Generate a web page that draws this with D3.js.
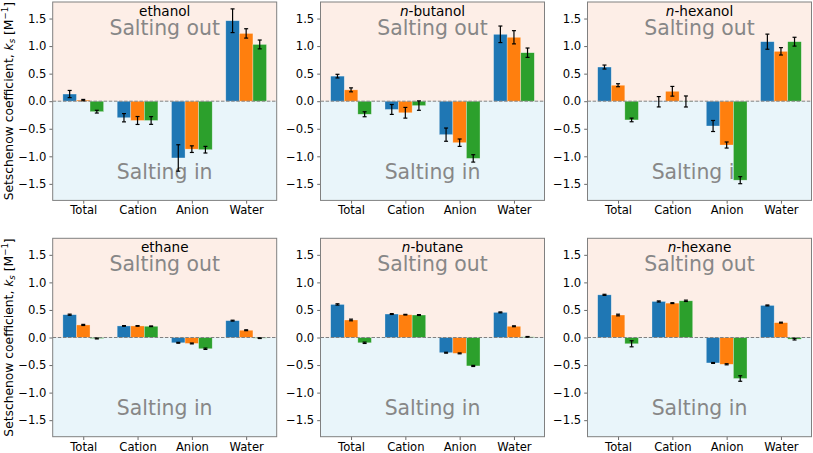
<!DOCTYPE html>
<html>
<head>
<meta charset="utf-8">
<script src="https://cdn.jsdelivr.net/npm/d3@7"></script>
<style>
  body { margin: 0; background: #fff; }
  svg { display: block; font-family: "DejaVu Sans", sans-serif; }
</style>
</head>
<body>
<svg id="chart" width="813" height="453"></svg>
<script>
// ---------- data ----------
const categories = ["Total", "Cation", "Anion", "Water"];
const seriesColors = ["#1f77b4", "#ff7f0e", "#2ca02c"];
const yTicks = [-1.5, -1.0, -0.5, 0.0, 0.5, 1.0, 1.5];

// values per category: [blue, orange, green]
const ethanolVals  = [[0.13, 0.02, -0.19], [-0.30, -0.35, -0.35], [-1.03, -0.87, -0.88], [1.46, 1.23, 1.03]];
const ethanolErrs  = [[0.065, 0.012, 0.025], [0.075, 0.072, 0.07], [0.24, 0.06, 0.06], [0.215, 0.085, 0.08]];
const butanolVals  = [[0.455, 0.206, -0.237], [-0.15, -0.21, -0.08], [-0.607, -0.753, -1.038], [1.214, 1.16, 0.88]];
const butanolErrs  = [[0.033, 0.036, 0.045], [0.09, 0.097, 0.085], [0.12, 0.067, 0.067], [0.15, 0.12, 0.085]];
const hexanolVals  = [[0.62, 0.29, -0.34], [-0.01, 0.18, -0.005], [-0.45, -0.795, -1.433], [1.08, 0.905, 1.08]];
const hexanolErrs  = [[0.036, 0.027, 0.033], [0.094, 0.088, 0.1], [0.1, 0.055, 0.064], [0.137, 0.067, 0.08]];
const ethaneVals   = [[0.414, 0.228, -0.018], [0.21, 0.21, 0.204], [-0.096, -0.108, -0.204], [0.306, 0.132, -0.012]];
const ethaneErrs   = [[0.01, 0.01, 0.008], [0.006, 0.006, 0.006], [0.008, 0.008, 0.012], [0.008, 0.008, 0.006]];
const butaneVals   = [[0.60, 0.318, -0.096], [0.426, 0.414, 0.408], [-0.276, -0.288, -0.516], [0.456, 0.204, 0.012]];
const butaneErrs   = [[0.012, 0.015, 0.012], [0.008, 0.006, 0.008], [0.008, 0.008, 0.01], [0.008, 0.008, 0.006]];
const hexaneVals   = [[0.774, 0.408, -0.114], [0.654, 0.624, 0.666], [-0.462, -0.486, -0.744], [0.582, 0.27, -0.03]];
const hexaneErrs   = [[0.01, 0.015, 0.055], [0.01, 0.008, 0.012], [0.008, 0.01, 0.05], [0.008, 0.008, 0.015]];

// title: [prefix italic, rest]
const panelTitles = [["", "ethanol"], ["n", "-butanol"], ["n", "-hexanol"], ["", "ethane"], ["n", "-butane"], ["n", "-hexane"]];
const panelVals = [ethanolVals, butanolVals, hexanolVals, ethaneVals, butaneVals, hexaneVals];
const panelErrs = [ethanolErrs, butanolErrs, hexanolErrs, ethaneErrs, butaneErrs, hexaneErrs];

// ---------- layout ----------
const colX = [52.7, 320.5, 587.5];
const rowY = [2, 238.3];
const pw = 224, ph = 198.4;
const yDomain = [-1.8, 1.8];
const xDomain = [-0.5625, 3.5625];
const barW = 0.25;

const svg = d3.select("#chart");

panelVals.forEach((vals, p) => {
  const col = p % 3, row = Math.floor(p / 3);
  const x0 = colX[col], y0 = rowY[row];
  const g = svg.append("g").attr("transform", `translate(${x0},${y0})`);
  const x = d3.scaleLinear().domain(xDomain).range([0, pw]);
  const y = d3.scaleLinear().domain(yDomain).range([ph, 0]);

  // backgrounds
  g.append("rect").attr("x", 0).attr("y", 0).attr("width", pw).attr("height", y(0))
    .attr("fill", "#fdeee7");
  g.append("rect").attr("x", 0).attr("y", y(0)).attr("width", pw).attr("height", ph - y(0))
    .attr("fill", "#e9f5fa");

  // region labels
  g.append("text").attr("x", pw / 2).attr("y", y(1.205)).attr("text-anchor", "middle")
    .attr("font-size", 20.4).attr("fill", "#878787").text("Salting out");
  g.append("text").attr("x", pw / 2).attr("y", y(-1.405)).attr("text-anchor", "middle")
    .attr("font-size", 20.4).attr("fill", "#878787").text("Salting in");

  // bars
  const errs = panelErrs[p];
  vals.forEach((grp, ci) => {
    grp.forEach((v, si) => {
      const cx = ci + (si - 1) * barW;
      g.append("rect")
        .attr("x", x(cx - barW / 2))
        .attr("width", x(cx + barW / 2) - x(cx - barW / 2))
        .attr("y", y(Math.max(0, v)))
        .attr("height", Math.abs(y(v) - y(0)))
        .attr("fill", seriesColors[si])
        .attr("stroke", "#ffffff").attr("stroke-opacity", 0.5).attr("stroke-width", 0.6);
    });
  });

  // zero line
  g.append("line").attr("x1", 0).attr("x2", pw).attr("y1", y(0)).attr("y2", y(0))
    .attr("stroke", "#808080").attr("stroke-width", 1).attr("stroke-dasharray", "3.5,1.6");

  // error bars
  vals.forEach((grp, ci) => {
    grp.forEach((v, si) => {
      const cx = x(ci + (si - 1) * barW);
      const e = errs[ci][si];
      const eg = g.append("g").attr("stroke", "#000").attr("stroke-width", 1.2);
      eg.append("line").attr("x1", cx).attr("x2", cx).attr("y1", y(v - e)).attr("y2", y(v + e));
      eg.append("line").attr("x1", cx - 2).attr("x2", cx + 2).attr("y1", y(v - e)).attr("y2", y(v - e));
      eg.append("line").attr("x1", cx - 2).attr("x2", cx + 2).attr("y1", y(v + e)).attr("y2", y(v + e));
    });
  });

  // title
  const t = g.append("text").attr("x", pw / 2).attr("y", y(1.555)).attr("text-anchor", "middle")
    .attr("font-size", 13.6).attr("fill", "#000");
  if (panelTitles[p][0]) t.append("tspan").attr("font-style", "italic").text(panelTitles[p][0]);
  t.append("tspan").text(panelTitles[p][1]);

  // axes
  const yAxis = d3.axisLeft(y).tickValues(yTicks).tickFormat(d3.format(".1f")).tickSize(3.3).tickPadding(3);
  const ya = g.append("g").call(yAxis);
  const xAxis = d3.axisBottom(x).tickValues([0, 1, 2, 3]).tickFormat((d) => categories[d]).tickSize(3.3).tickPadding(2.4);
  const xa = g.append("g").attr("transform", `translate(0,${ph})`).call(xAxis);
  [ya, xa].forEach((a) => {
    a.select(".domain").remove();
    a.selectAll("text").attr("font-size", 11.6).attr("fill", "#000").attr("font-family", "DejaVu Sans");
    a.selectAll("line").attr("stroke", "#444").attr("stroke-width", 0.8);
  });

  // frame
  g.append("rect").attr("x", 0).attr("y", 0).attr("width", pw).attr("height", ph)
    .attr("fill", "none").attr("stroke", "#808080").attr("stroke-width", 1);

  // y label
  if (col === 0) {
    const yl = svg.append("text")
      .attr("transform", `translate(12.8,${y0 + ph / 2}) rotate(-90)`)
      .attr("text-anchor", "middle").attr("font-size", 12.3).attr("fill", "#000");
    yl.append("tspan").text("Setschenow coefficient, ");
    yl.append("tspan").attr("font-style", "italic").text("k");
    yl.append("tspan").attr("font-size", 8.6).attr("dy", 2.6).attr("font-style", "italic").text("s");
    yl.append("tspan").attr("dy", -2.6).text(" [M");
    yl.append("tspan").attr("font-size", 8.6).attr("dy", -4.8).text("−1");
    yl.append("tspan").attr("dy", 4.8).text("]");
  }
});
</script>
</body>
</html>
